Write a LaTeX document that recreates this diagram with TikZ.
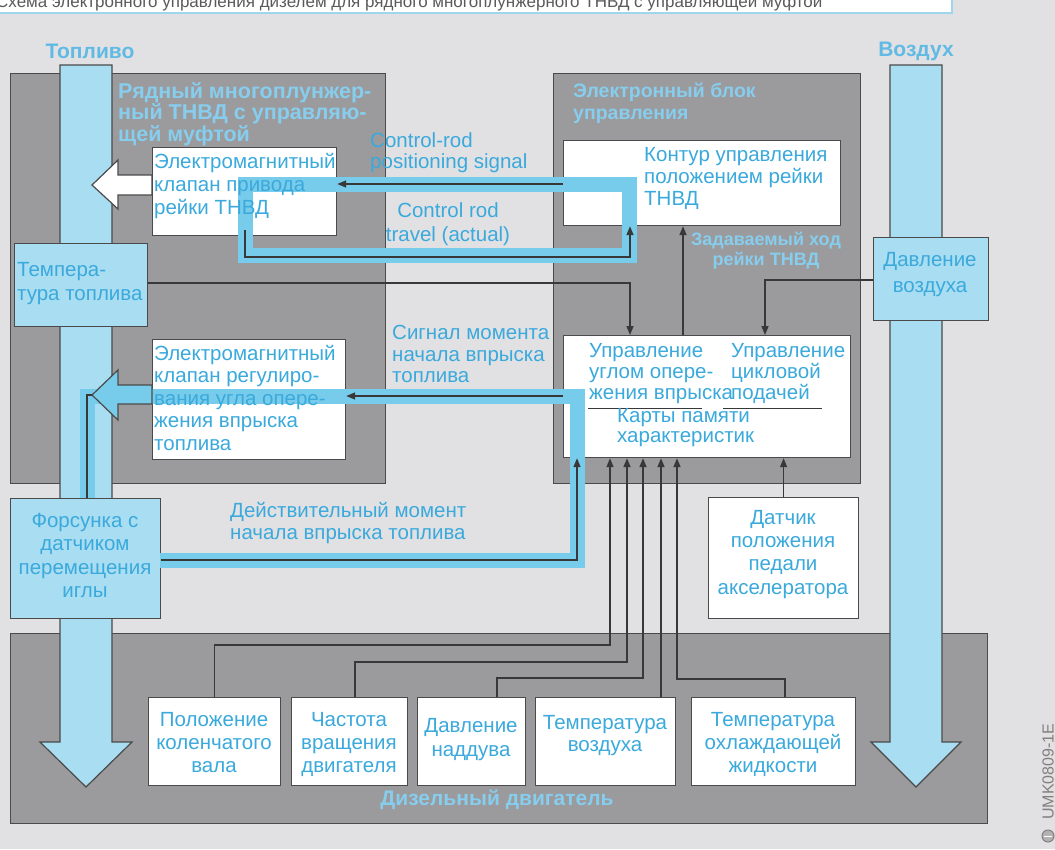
\documentclass[tikz,border=0pt]{standalone}
\usepackage{fontspec}
\setmainfont{Liberation Sans}
\usetikzlibrary{arrows.meta}
\definecolor{bg}{HTML}{E1E1E3}
\definecolor{gbox}{HTML}{9B9A9C}
\definecolor{lblue}{HTML}{A9DDF2}
\definecolor{bandc}{HTML}{78CCEB}
\definecolor{tblue}{HTML}{3AA9DC}
\definecolor{ttlc}{HTML}{86CDEE}
\definecolor{edge}{HTML}{4A4A4A}
\definecolor{wirec}{HTML}{383838}
\definecolor{capc}{HTML}{5A5A5A}
\definecolor{barc}{HTML}{9FD6EE}
\begin{document}
\begin{tikzpicture}[x=1pt,y=-1pt,
  box/.style={draw=edge, line width=1.2pt, anchor=north west, inner sep=0pt},
  graybox/.style={box, fill=gbox},
  wbox/.style={box, fill=white},
  bbox/.style={box, fill=lblue},
  txt/.style={text=tblue, font=\fontsize{20.5}{23}\selectfont, inner sep=0pt, anchor=north west, align=left, execute at begin node=\strut},
  txtc/.style={txt, anchor=north, align=center},
  ttl/.style={text=ttlc, font=\bfseries\fontsize{21.5}{20}\selectfont, inner sep=0pt, anchor=north west, align=left, execute at begin node=\strut},
  ttlcen/.style={ttl, anchor=north, align=center},
  headl/.style={text=tblue!80, font=\bfseries\fontsize{21}{23}\selectfont, inner sep=0pt},
  band/.style={draw=bandc, line width=15pt, line join=miter},
  bigarrow/.style={draw=edge, line width=1.2pt, line join=miter},
  wire/.style={draw=wirec, line width=1.4pt},
  sig/.style={wire, -{Triangle[length=9pt,width=7pt]}},
  uline/.style={draw=wirec, line width=0.9pt}
]
\useasboundingbox (0,0) rectangle (1055,849);
\fill[bg] (0,0) rectangle (1055,849);

% caption strip (cut off at the top)
\fill[white] (0,0) rectangle (952,13);
\draw[barc, line width=1.2pt] (0,13) -- (952,13) -- (952,0);
\node[anchor=base west, inner sep=0pt, text=capc, font=\fontsize{17}{17}\selectfont] (cap) at (-4,7) {Схема электронного управления дизелем для рядного многоплунжерного ТНВД с управляющей муфтой};

% large grey blocks
\node[graybox, minimum width=375, minimum height=410] (pump) at (10,73) {};
\node[graybox, minimum width=307, minimum height=410] (ecu) at (553,73) {};
\node[graybox, minimum width=977, minimum height=190] (engine) at (10,633) {};

% fuel and air flows
\draw[bigarrow, fill=lblue] (60,65) -- (112,65) -- (112,742) -- (132,742) -- (86,787) -- (40,742) -- (60,742) -- cycle;
\draw[bigarrow, fill=lblue] (890,65) -- (942,65) -- (942,742) -- (961,742) -- (916,787) -- (871,742) -- (890,742) -- cycle;

% valve action arrow (white)
\draw[bigarrow, fill=white] (152,175) -- (118,175) -- (118,160) -- (92,185) -- (118,209) -- (118,195) -- (152,195) -- cycle;

% boxes
\node[wbox, minimum width=184, minimum height=88] (valveA) at (152,147) {};
\node[wbox, minimum width=277, minimum height=85] (contour) at (563,140) {};
\node[bbox, minimum width=133, minimum height=83] (tempfuel) at (14,243) {};
\node[bbox, minimum width=115, minimum height=83] (airp) at (873,237) {};
\node[wbox, minimum width=287, minimum height=122] (ctrl) at (563,335) {};
\node[wbox, minimum width=193, minimum height=120] (valveB) at (152,339) {};
\node[bbox, minimum width=150, minimum height=120] (injector) at (10,498) {};
\node[wbox, minimum width=150, minimum height=121] (pedal) at (708,497) {};
\node[wbox, minimum width=132, minimum height=88] (s1) at (148,697) {};
\node[wbox, minimum width=116, minimum height=88] (s2) at (291,697) {};
\node[wbox, minimum width=108, minimum height=88] (s3) at (417,697) {};
\node[wbox, minimum width=140, minimum height=88] (s4) at (535,697) {};
\node[wbox, minimum width=164, minimum height=88] (s5) at (691,697) {};

% signal bands
\draw[band] (245,184.5) -- (629.5,184.5) -- (629.5,255.5) -- (245,255.5) -- cycle;
\draw[band] (87,498) -- (87,396) -- (577.5,396) -- (577.5,560) -- (160,560);

% valve action arrow (blue)
\draw[bigarrow, fill=bandc] (152,385) -- (118,385) -- (118,370) -- (92,395) -- (118,420) -- (118,404) -- (152,404) -- cycle;

% helper coordinates
\coordinate (yPS) at (0,184);
\coordinate (yTR) at (0,257);
\coordinate (trS) at (245,230);
\coordinate (xTR) at (630,0);
\coordinate (yTF) at (0,283);
\coordinate (yAP) at (0,280);
\coordinate (xAP) at (765,0);
\coordinate (xCC) at (683,0);
\coordinate (yMS) at (0,396);
\coordinate (yAC) at (0,560);
\coordinate (xAC) at (577,0);
\coordinate (xIJ) at (87,0);
\coordinate (tipB) at (92,395);
\coordinate (xS1) at (610,0);
\coordinate (yS1) at (0,645);
\coordinate (xS2) at (627,0);
\coordinate (yS2) at (0,662);
\coordinate (bS2) at (355,0);
\coordinate (xS3) at (643,0);
\coordinate (yS3) at (0,678);
\coordinate (bS3) at (497,0);
\coordinate (xS4) at (661,0);
\coordinate (xS5) at (677,0);
\coordinate (yS5) at (0,679);
\coordinate (bS5) at (785,0);

% connectors
\draw[sig] (contour.west |- yPS) -- (valveA.east |- yPS);
\draw[sig] (trS) |- (xTR |- yTR) -- (xTR |- contour.south);
\draw[sig] (tempfuel.east |- yTF) -| (xTR |- ctrl.north);
\draw[sig] (airp.west |- yAP) -| (xAP |- ctrl.north);
\draw[sig] (xCC |- ctrl.north) -- (xCC |- contour.south);
\draw[sig] (ctrl.west |- yMS) -- (valveB.east |- yMS);
\draw[sig] (injector.east |- yAC) -| (xAC |- ctrl.south);
\draw[wire] (xIJ |- injector.north) |- (tipB);
\draw[sig] (pedal.north) -- (pedal.north |- ctrl.south);
\draw[sig] (s1.north) |- (xS1 |- yS1) -- (xS1 |- ctrl.south);
\draw[sig] (bS2 |- s2.north) |- (xS2 |- yS2) -- (xS2 |- ctrl.south);
\draw[sig] (bS3 |- s3.north) |- (xS3 |- yS3) -- (xS3 |- ctrl.south);
\draw[sig] (xS4 |- s4.north) -- (xS4 |- ctrl.south);
\draw[sig] (bS5 |- s5.north) |- (xS5 |- yS5) -- (xS5 |- ctrl.south);

% underlines in the control box
\draw[uline] (588,408) -- (702,408);
\draw[uline] (723,408) -- (822,408);

% texts
\node[headl] (hF) at (90,51) {Топливо};
\node[headl] (hA) at (916,51) {Воздух};
\node[ttl] (hP) at (118,82) {Рядный многоплунжер-\\ный ТНВД с управляю-\\щей муфтой};
\node[ttl, font=\bfseries\fontsize{19.5}{22}\selectfont] (hE) at (573,83) {Электронный блок\\управления};
\node[ttlcen, font=\bfseries\fontsize{18}{20}\selectfont] (hZ) at (766,232) {Задаваемый ход\\рейки ТНВД};
\node[ttl, anchor=center, font=\bfseries\fontsize{21}{22}\selectfont] (hD) at (497,801) {Дизельный двигатель};

\node[txt] (tA) at (154,153) {Электромагнитный\\клапан привода\\рейки ТНВД};
\node[txt, font=\fontsize{20.5}{22}\selectfont] (tK) at (644,147) {Контур управления\\положением рейки\\ТНВД};
\node[txt, font=\fontsize{20.5}{24}\selectfont] (tT) at (17,262) {Темпера-\\тура топлива};
\node[txtc, font=\fontsize{20.5}{26}\selectfont] (tP) at (930,252) {Давление\\воздуха};
\node[txt, font=\fontsize{20.5}{21}\selectfont] (tC1) at (589,343) {Управление\\углом опере-\\жения впрыска};
\node[txt, font=\fontsize{20.5}{21}\selectfont] (tC2) at (731,343) {Управление\\цикловой\\подачей};
\node[txt, font=\fontsize{20.5}{20}\selectfont] (tC3) at (617,408) {Карты памяти\\характеристик};
\node[txt, font=\fontsize{20.5}{22.5}\selectfont] (tB) at (154,345) {Электромагнитный\\клапан регулиро-\\вания угла опере-\\жения впрыска\\топлива};
\node[txtc, font=\fontsize{20.5}{23.5}\selectfont] (tI) at (85,513) {Форсунка с\\датчиком\\перемещения\\иглы};
\node[txtc, font=\fontsize{20.5}{23.3}\selectfont] (tD) at (783,510) {Датчик\\положения\\педали\\акселератора};
\node[txtc] (tS1) at (214,712) {Положение\\коленчатого\\вала};
\node[txtc] (tS2) at (349,712) {Частота\\вращения\\двигателя};
\node[txtc, font=\fontsize{20.5}{24}\selectfont] (tS3) at (471,718) {Давление\\наддува};
\node[txtc, font=\fontsize{20.5}{22}\selectfont] (tS4) at (605,715) {Температура\\воздуха};
\node[txtc] (tS5) at (773,712) {Температура\\охлаждающей\\жидкости};

\node[txt, font=\fontsize{20.5}{21}\selectfont] (lPS) at (370,132) {Control-rod\\positioning signal};
\node[txtc, font=\fontsize{20.5}{24}\selectfont] (lTR) at (448,202) {Control rod\\travel (actual)};
\node[txt, font=\fontsize{20.5}{21.5}\selectfont] (lMS) at (392,325) {Сигнал момента\\начала впрыска\\топлива};
\node[txt, font=\fontsize{20.5}{22}\selectfont] (lAC) at (230,502) {Действительный момент\\начала впрыска топлива};

% figure code and logo
\node[rotate=90, anchor=west, inner sep=0pt, text=gray, font=\fontsize{16}{16}\selectfont] (umk) at (1048,820) {UMK0809-1E};
\node[circle, draw=gray, fill=gray!60, line width=1pt, minimum size=12, inner sep=0pt] (logo) at (1048,836) {};
\draw[white, line width=1pt] (1044,836) -- (1052,836);
\end{tikzpicture}
\end{document}
